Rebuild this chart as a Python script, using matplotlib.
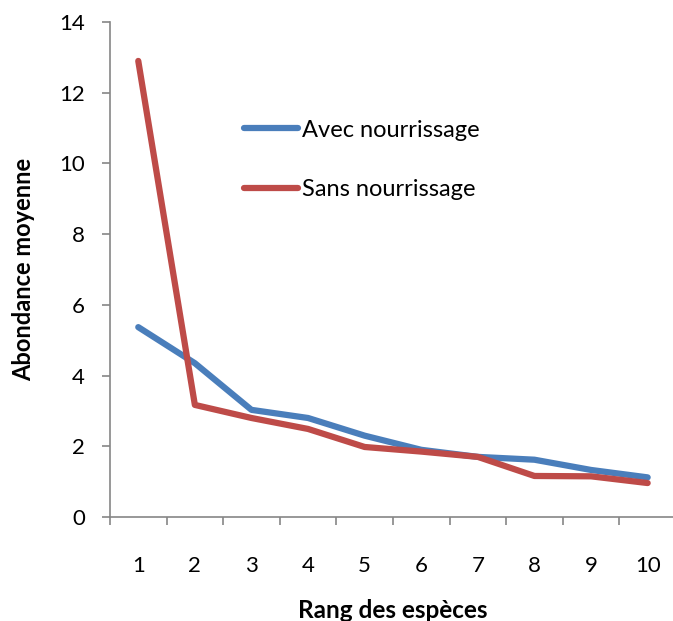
import numpy as np
import matplotlib.pyplot as plt

rang = [1, 2, 3, 4, 5, 6, 7, 8, 9, 10]
avec = [5.37, 4.35, 3.03, 2.8, 2.3, 1.9, 1.7, 1.62, 1.33, 1.12]
sans = [12.9, 3.17, 2.8, 2.49, 1.98, 1.85, 1.7, 1.16, 1.15, 0.96]

blue = '#4a7ebb'
red = '#be4b48'
grey = '#868686'
plt.rcParams['font.family'] = ['Lato', 'DejaVu Sans']

fig = plt.figure(figsize=(6.73, 6.21), dpi=100)
# the category axis runs on past the right edge of the picture
ax = fig.add_axes([0.1634, 0.1675, 0.841, 0.797])

ax.plot(rang, avec, color=blue, lw=4.5, solid_capstyle='round', solid_joinstyle='round', label='Avec nourrissage')
ax.plot(rang, sans, color=red, lw=4.5, solid_capstyle='round', solid_joinstyle='round', label='Sans nourrissage')

ax.set_xlim(0.5, 10.5)
ax.set_ylim(0, 14)
ax.set_yticks(np.arange(0, 15, 2))
ax.set_xticks(rang)
ax.set_xticks(np.arange(0.5, 11, 1), minor=True)
ax.tick_params(axis='x', which='major', length=0, pad=28, labelsize=16)
ax.tick_params(axis='x', which='minor', length=6, width=1.2, color=grey, direction='out')
ax.tick_params(axis='y', length=6, width=1.2, color=grey, direction='out', labelsize=16, pad=12)

for s in ['top', 'right']:
    ax.spines[s].set_visible(False)
for s in ['left', 'bottom']:
    ax.spines[s].set_color(grey)
    ax.spines[s].set_linewidth(1.2)

ax.set_xlabel('Rang des espèces', fontsize=17.5, fontweight='bold', labelpad=17)
ax.set_ylabel('Abondance moyenne', fontsize=17, fontweight='bold', labelpad=17)

leg = ax.legend(loc='upper left', bbox_to_anchor=(0.199, 0.846), frameon=False,
                fontsize=17, handlelength=2.3, handletextpad=0.15, labelspacing=1.65)

fig.savefig('out.png', dpi=100)
